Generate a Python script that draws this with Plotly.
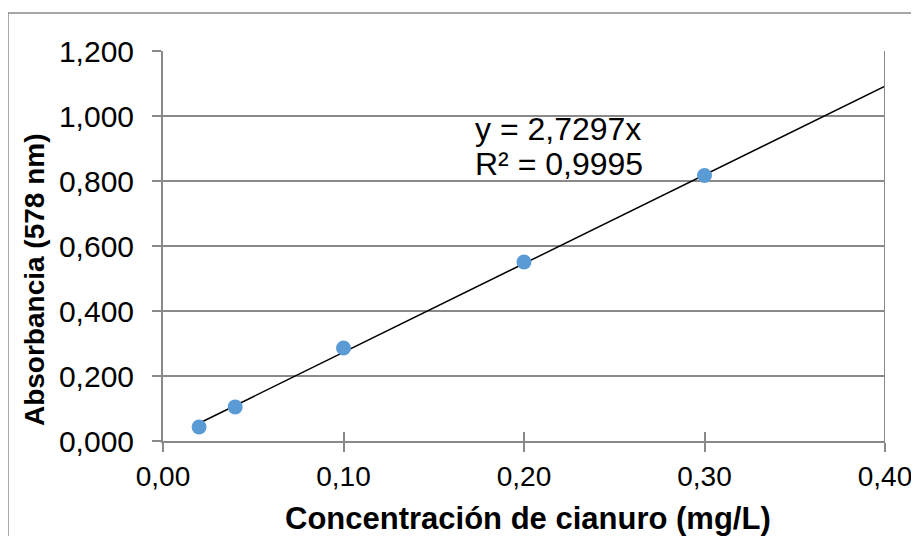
import plotly.graph_objects as go

conc = [0.02, 0.04, 0.10, 0.20, 0.30]
absorb = [0.043, 0.105, 0.286, 0.551, 0.817]
slope = 2.7297
r2 = 0.9995
trend_x = [0.02, 0.40]
trend_y = [slope * v for v in trend_x]
x_ticks = [0.0, 0.1, 0.2, 0.3, 0.4]
y_ticks = [0.0, 0.2, 0.4, 0.6, 0.8, 1.0, 1.2]
x_title = "Concentración de cianuro (mg/L)"
y_title = "Absorbancia (578 nm)"

FONT = "Liberation Sans, Arial, sans-serif"
GRAY = "#898989"

fig = go.Figure()
fig.add_trace(go.Scatter(x=trend_x, y=trend_y, mode="lines",
                         line=dict(color="black", width=1.5), showlegend=False))
fig.add_trace(go.Scatter(x=conc, y=absorb, mode="markers",
                         marker=dict(color="#5B9BD5", size=15), showlegend=False))
fig.add_trace(go.Scatter(x=[None], y=[None], xaxis="x2", yaxis="y2", showlegend=False))

fmt = lambda v, d: f"{v:.{d}f}".replace(".", ",")

fig.update_layout(
    width=911, height=528,
    margin=dict(l=155, r=34, t=43, b=95, autoexpand=False),
    paper_bgcolor="white", plot_bgcolor="white",
    separators=",.",
    font=dict(family=FONT, size=30, color="black"),
    xaxis=dict(range=[0, 0.40], tickvals=x_ticks, tickformat=".2f", automargin=False,
               tickfont=dict(size=28), ticklabelstandoff=0,
               showgrid=False, zeroline=False, showline=True, linecolor=GRAY, linewidth=2,
               ticks="outside", ticklen=9, tickwidth=2, tickcolor=GRAY),
    yaxis=dict(range=[0, 1.2], tickvals=y_ticks, tickformat=".3f", automargin=False,
               tickfont=dict(size=30), ticklabelstandoff=12,
               showgrid=True, gridcolor=GRAY, gridwidth=1.5,
               zeroline=False, showline=True, linecolor=GRAY, linewidth=2,
               ticks="outside", ticklen=9, tickwidth=2, tickcolor=GRAY),
    xaxis2=dict(overlaying="x", matches="x", range=[0, 0.40], tickvals=x_ticks,
                showticklabels=False, showgrid=False, zeroline=False,
                ticks="inside", ticklen=9, tickwidth=2, tickcolor=GRAY, side="bottom"),
    yaxis2=dict(overlaying="y", matches="y", range=[0, 1.2], tickvals=y_ticks,
                showticklabels=False, showgrid=False, zeroline=False,
                ticks="inside", ticklen=9, tickwidth=2, tickcolor=GRAY, side="left"),
    annotations=[
        dict(x=0.1717, y=0.9615, xref="x", yref="y", xanchor="left", yanchor="middle",
             text=f"y = {fmt(slope, 4)}x", showarrow=False, font=dict(size=32)),
        dict(x=0.1717, y=0.8538, xref="x", yref="y", xanchor="left", yanchor="middle",
             text=f"R² = {fmt(r2, 4)}", showarrow=False, font=dict(size=32)),
        dict(x=0.5055, y=-0.1987, xref="paper", yref="paper", xanchor="center", yanchor="middle",
             text=f"<b>{x_title}</b>", showarrow=False, font=dict(size=31)),
        dict(x=-0.178, y=0.414, xref="paper", yref="paper", xanchor="center", yanchor="middle",
             text=f"<b>{y_title}</b>", showarrow=False, textangle=-90, font=dict(size=28)),
    ],
    shapes=[
        dict(type="line", xref="x", yref="y", x0=0.40, x1=0.40, y0=-0.028, y1=1.2,
             line=dict(color=GRAY, width=2)),
        dict(type="rect", xref="paper", yref="paper", x0=-0.2147, x1=1.5, y0=-0.5, y1=1.0974,
             line=dict(color=GRAY, width=1.5), layer="below"),
    ],
)

fig.write_html("out.html")
